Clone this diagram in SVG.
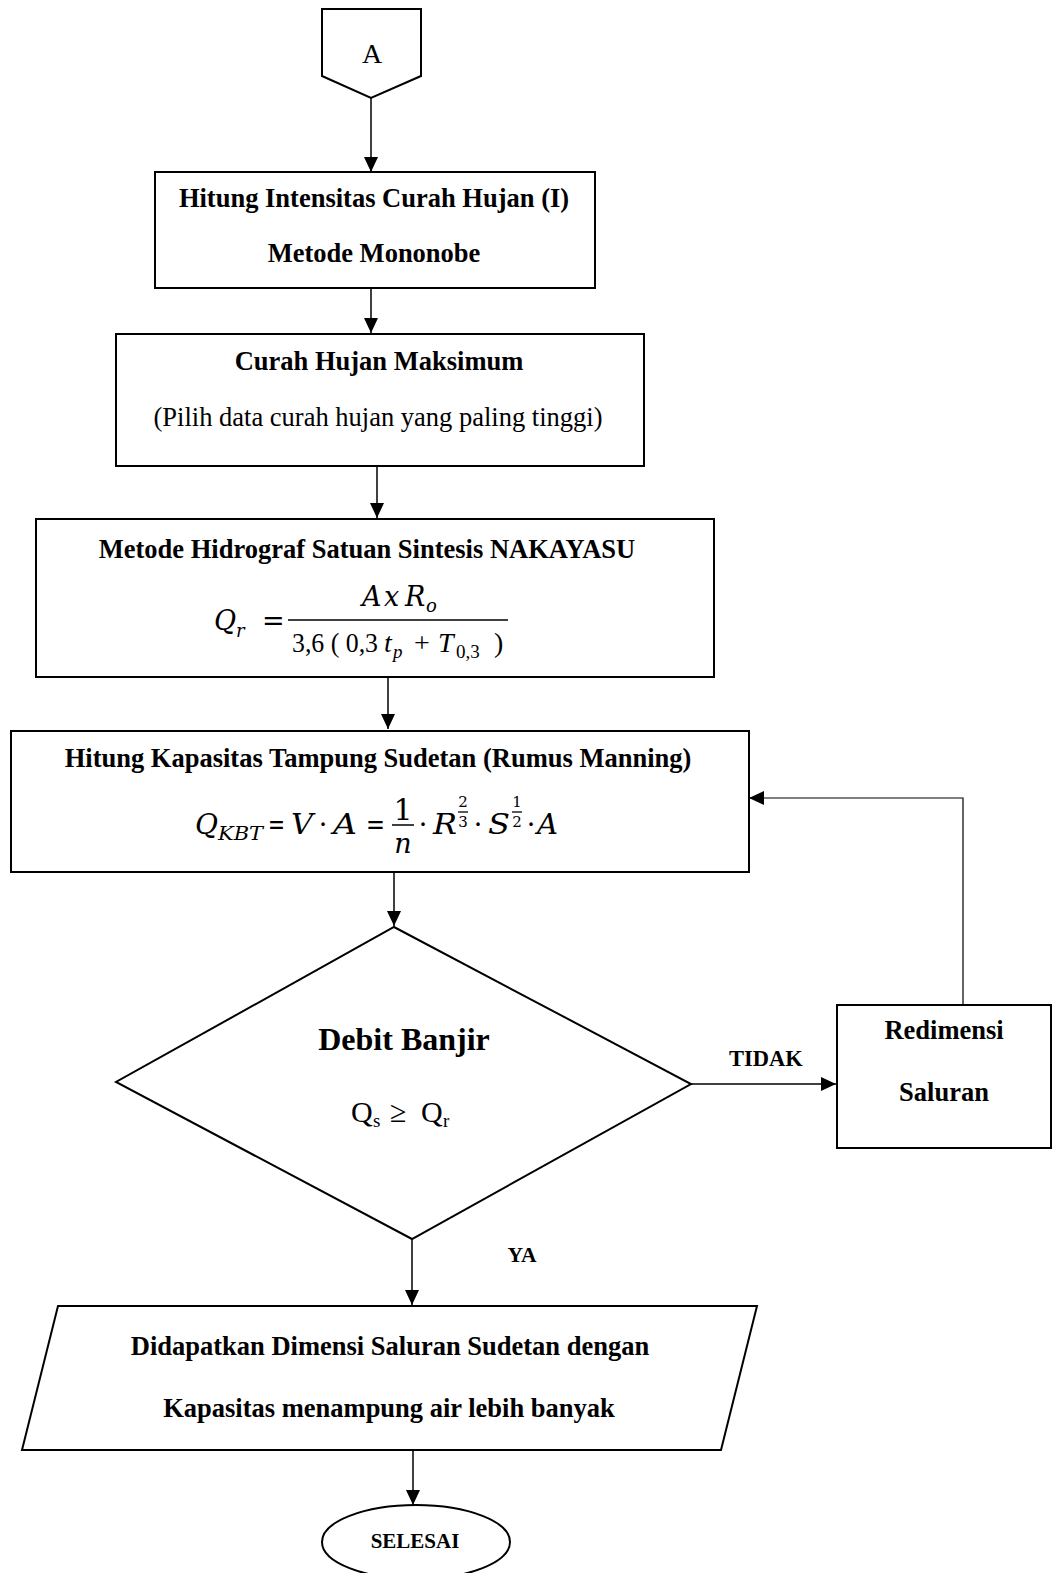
<svg xmlns="http://www.w3.org/2000/svg" width="1062" height="1573" viewBox="0 0 1062 1573">
<style>
.shape{fill:#fff;stroke:#000;stroke-width:2}
.conn{fill:none;stroke:#000;stroke-width:1.5}
.b{font-family:"Liberation Serif","Times New Roman",serif;font-weight:bold;font-size:26.5px;fill:#000;text-anchor:middle}
.r{font-family:"Liberation Serif","Times New Roman",serif;font-size:26.5px;fill:#000;text-anchor:middle}
.q{font-family:"Liberation Serif","Times New Roman",serif;font-size:30px;fill:#000}
.qs{font-family:"Liberation Serif","Times New Roman",serif;font-size:19px;fill:#000}
.d{font-family:"Liberation Serif","Times New Roman",serif;font-size:28px;fill:#000}
.di{font-family:"Liberation Serif","Times New Roman",serif;font-style:italic;font-size:28px;fill:#000}
.ds{font-family:"Liberation Serif","Times New Roman",serif;font-size:19px;fill:#000}
.dsi{font-family:"Liberation Serif","Times New Roman",serif;font-style:italic;font-size:19px;fill:#000}
.m{font-family:"DejaVu Serif","Liberation Serif",serif;font-style:italic;font-size:27px;fill:#000}
.mr{font-family:"DejaVu Serif","Liberation Serif",serif;font-size:27px;fill:#000}
.ms{font-family:"DejaVu Serif","Liberation Serif",serif;font-style:italic;font-size:18px;fill:#000}
.sup{font-family:"DejaVu Serif","Liberation Serif",serif;font-size:15px;fill:#000;text-anchor:middle}
.fl{stroke:#000;stroke-width:1.5}
</style>
<defs>
<marker id="ah" markerUnits="userSpaceOnUse" markerWidth="15" markerHeight="14" refX="15" refY="7" orient="auto">
<path d="M0,0 L15,7 L0,14 Z" fill="#000"/>
</marker>
</defs>
<g id="connectors">
<line class="conn" x1="371" y1="98" x2="371" y2="172" marker-end="url(#ah)"/>
<line class="conn" x1="371" y1="288" x2="371" y2="333" marker-end="url(#ah)"/>
<line class="conn" x1="377" y1="466" x2="377" y2="518" marker-end="url(#ah)"/>
<line class="conn" x1="388" y1="677" x2="388" y2="729" marker-end="url(#ah)"/>
<line class="conn" x1="394" y1="872" x2="394" y2="926" marker-end="url(#ah)"/>
<line class="conn" x1="691" y1="1084" x2="836" y2="1084" marker-end="url(#ah)"/>
<polyline class="conn" style="stroke-width:1.2" points="963,1004 963,798 749,798" marker-end="url(#ah)"/>
<line class="conn" x1="412" y1="1239" x2="412" y2="1305" marker-end="url(#ah)"/>
<line class="conn" x1="413" y1="1450" x2="413" y2="1505" marker-end="url(#ah)"/>
<text class="b" x="766" y="1066" style="font-size:22.5px">TIDAK</text>
<text class="b" x="522" y="1262" style="font-size:21.5px">YA</text>
</g>
<g id="node-A">
<path class="shape" d="M322,9 L421,9 L421,76 L371,98 L322,76 Z"/>
<text class="r" x="372" y="63" style="font-size:28px">A</text>
</g>
<g id="node-intensitas">
<rect class="shape" x="155" y="172" width="440" height="116"/>
<text class="b" x="374" y="207">Hitung Intensitas Curah Hujan (I)</text>
<text class="b" x="374" y="262">Metode Mononobe</text>
</g>
<g id="node-curah">
<rect class="shape" x="116" y="334" width="528" height="132"/>
<text class="b" x="379" y="370">Curah Hujan Maksimum</text>
<text class="r" x="378" y="426">(Pilih data curah hujan yang paling tinggi)</text>
</g>
<g id="node-nakayasu">
<rect class="shape" x="36" y="519" width="678" height="158"/>
<text class="b" x="367" y="558">Metode Hidrograf Satuan Sintesis NAKAYASU</text>
<text class="m" x="214" y="630">Q</text>
<text class="ms" x="236" y="637">r</text>
<text class="mr" x="262" y="630">=</text>
<text class="m" x="362" y="606">A</text>
<text class="m" x="384" y="606">x</text>
<text class="m" x="405" y="606">R</text>
<text class="ms" x="426" y="612">o</text>
<line class="fl" x1="288" y1="620" x2="508" y2="620"/>
<text class="d" x="292" y="652" textLength="86" lengthAdjust="spacingAndGlyphs">3,6 ( 0,3</text>
<text class="di" x="384" y="652">t</text>
<text class="dsi" x="393" y="658">p</text>
<text class="d" x="414" y="652">+</text>
<text class="di" x="438" y="652">T</text>
<text class="ds" x="456" y="658">0,3</text>
<text class="d" x="494" y="652">)</text>
</g>
<g id="node-manning">
<rect class="shape" x="11" y="731" width="738" height="141"/>
<text class="b" x="378" y="767">Hitung Kapasitas Tampung Sudetan (Rumus Manning)</text>
<text class="m" x="195" y="834" textLength="23" lengthAdjust="spacingAndGlyphs">Q</text>
<text class="ms" x="218" y="840" textLength="45" lengthAdjust="spacingAndGlyphs">KBT</text>
<text class="mr" x="268" y="834" textLength="17" lengthAdjust="spacingAndGlyphs">=</text>
<text class="m" x="291" y="834" textLength="22" lengthAdjust="spacingAndGlyphs">V</text>
<text class="mr" x="323" y="834" text-anchor="middle">·</text>
<text class="m" x="333" y="834" textLength="24" lengthAdjust="spacingAndGlyphs">A</text>
<text class="mr" x="366" y="834" textLength="19" lengthAdjust="spacingAndGlyphs">=</text>
<text class="mr" x="403" y="820" text-anchor="middle" style="font-size:30px">1</text>
<line class="fl" x1="392" y1="825" x2="414" y2="825"/>
<text class="m" x="403" y="853" text-anchor="middle">n</text>
<text class="mr" x="423" y="834" text-anchor="middle">·</text>
<text class="m" x="433" y="834" textLength="24" lengthAdjust="spacingAndGlyphs">R</text>
<text class="sup" x="463" y="807">2</text>
<line class="fl" style="stroke-width:1.3" x1="458" y1="812" x2="468" y2="812"/>
<text class="sup" x="463" y="827">3</text>
<text class="mr" x="478" y="834" text-anchor="middle">·</text>
<text class="m" x="488" y="834" textLength="22" lengthAdjust="spacingAndGlyphs">S</text>
<text class="sup" x="517" y="807">1</text>
<line class="fl" style="stroke-width:1.3" x1="512" y1="812" x2="522" y2="812"/>
<text class="sup" x="517" y="827">2</text>
<text class="mr" x="531" y="834" text-anchor="middle">·</text>
<text class="m" x="537" y="834" textLength="21" lengthAdjust="spacingAndGlyphs">A</text>
</g>
<g id="node-debit">
<path class="shape" d="M394,927 L691,1084 L412,1239 L116,1082 Z"/>
<text class="b" x="404" y="1050" style="font-size:32px">Debit Banjir</text>
<text class="q" x="351" y="1122">Q</text>
<text class="qs" x="373" y="1127">s</text>
<text class="q" x="390" y="1122">≥</text>
<text class="q" x="421" y="1122">Q</text>
<text class="qs" x="443" y="1127">r</text>
</g>
<g id="node-redimensi">
<rect class="shape" x="837" y="1005" width="214" height="143"/>
<text class="b" x="944" y="1039">Redimensi</text>
<text class="b" x="944" y="1101">Saluran</text>
</g>
<g id="node-output">
<path class="shape" d="M58,1306 L757,1306 L721,1450 L22,1450 Z"/>
<text class="b" x="390" y="1355">Didapatkan Dimensi Saluran Sudetan dengan</text>
<text class="b" x="389" y="1417">Kapasitas menampung air lebih banyak</text>
</g>
<g id="node-selesai">
<ellipse class="shape" cx="416" cy="1542" rx="94" ry="37"/>
<text class="b" x="415" y="1548" style="font-size:21px">SELESAI</text>
</g>
</svg>
